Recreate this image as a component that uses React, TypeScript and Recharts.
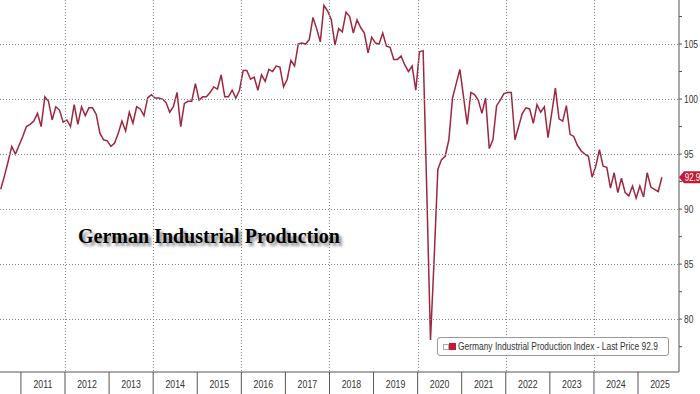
import { LineChart, Line, XAxis, YAxis, ReferenceLine, Legend } from "recharts";

// monthly index values, first point = Jul 2010
const START_YEAR = 2010;
const START_MONTH = 7;

const ipIndex = [
  91.8, 93.0, 94.3, 95.7, 95.0, 95.8, 96.6, 97.5, 97.7, 98.0, 98.7, 97.5,
  100.2, 99.8, 98.1, 99.3, 99.0, 97.9, 98.1, 97.5, 99.5, 97.7, 99.3, 98.5,
  99.2, 99.2, 98.6, 96.9, 96.3, 96.2, 95.7, 96.0, 96.9, 98.0, 97.1, 98.8,
  97.8, 99.3, 99.1, 98.5, 100.1, 100.4, 100.1, 100.1, 100.0, 99.7, 98.8, 99.3,
  100.6, 97.5, 99.6, 99.8, 99.8, 101.4, 99.9, 100.2, 100.2, 100.6, 101.1, 100.9,
  102.2, 100.2, 100.2, 100.8, 100.1, 100.8, 102.6, 102.6, 101.8, 102.0, 100.8, 102.2,
  101.6, 102.7, 102.5, 103.0, 102.9, 101.1, 101.8, 103.5, 103.0, 105.0, 105.1, 105.0,
  105.4, 107.4, 106.4, 105.2, 108.5, 108.0, 107.2, 104.9, 106.4, 106.1, 107.9, 107.5,
  106.0, 107.2, 106.5, 106.0, 104.2, 105.6, 105.1, 105.0, 106.0, 104.8, 104.7, 103.6,
  103.6, 103.9, 103.1, 102.5, 103.0, 100.8, 104.3, 104.4, 91.5, 78.1, 85.5, 93.6,
  94.5, 94.8, 96.3, 100.1, 101.4, 102.7, 100.2, 97.7, 100.6, 100.4, 99.9, 98.7,
  100.1, 95.5, 96.3, 99.4, 99.9, 100.5, 100.6, 100.6, 96.3, 97.5, 98.7, 99.2,
  99.1, 97.8, 99.5, 98.8, 99.3, 96.5, 98.7, 101.0, 98.2, 98.0, 99.4, 96.8,
  96.6, 95.8, 95.3, 95.0, 94.8, 92.9, 93.9, 95.4, 93.9, 93.8, 91.9, 93.3,
  91.5, 92.8, 91.5, 91.2, 92.1, 91.0, 92.1, 91.1, 93.3, 92.0, 91.8, 91.6,
  92.9,
];

const yearLabels = [
  "2011", "2012", "2013", "2014", "2015", "2016", "2017", "2018",
  "2019", "2020", "2021", "2022", "2023", "2024", "2025",
];
const gridYears = ["2012", "2014", "2016", "2018", "2020", "2022", "2024"];
const yTicks = [77.5, 80, 82.5, 85, 87.5, 90, 92.5, 95, 97.5, 100, 102.5, 105, 107.5];
const gridValues = [80, 85, 90, 95, 100, 105];

const lastPrice = 92.9;
const seriesName = "Germany Industrial Production Index";
const title = "German Industrial Production";

const X_DOMAIN = [-0.2, 184.66];
const Y_DOMAIN = [75.2, 109];
const PLOT_W = 679;
const PLOT_H = 372;

const LINE_COLOR = "#9e2740";
const TAG_COLOR = "#c41a36";
const AXIS_COLOR = "#555";
const GRID_COLOR = "#888";
const AXIS_FONT = "'Liberation Sans', Arial, sans-serif";
const NARROW = 0.8; // horizontal squeeze for the condensed axis font

// boundary between Dec and Jan of a year, in month-index units
const yearStart = (year: string) => (Number(year) - START_YEAR) * 12 + (1 - START_MONTH) - 0.5;

const data = ipIndex.map((value, i) => ({ t: i, value }));

// dotted grid line, drawn as a row of tiny squares
function Dots({ x1, y1, x2, y2 }: { x1: number; y1: number; x2: number; y2: number }) {
  const len = Math.hypot(x2 - x1, y2 - y1);
  const n = Math.floor(len / 3);
  const dots = [];
  for (let k = 0; k <= n; k++) {
    const f = n ? k / n : 0;
    dots.push(
      <rect
        key={k}
        x={Math.round(x1 + (x2 - x1) * f)}
        y={Math.round(y1 + (y2 - y1) * f)}
        width={1}
        height={1}
        fill={GRID_COLOR}
      />
    );
  }
  return <g>{dots}</g>;
}

function YearTick(props: any) {
  const { x, y, payload } = props;
  const label = yearLabels.find((yr) => yearStart(yr) === payload.value);
  const withGrid = gridYears.includes(label || "");
  return (
    <g>
      {withGrid && <Dots x1={x} y1={y - PLOT_H} x2={x} y2={y - 2} />}
      <line x1={x} y1={y} x2={x} y2={y + 22} stroke={AXIS_COLOR} strokeWidth={1} />
      <text
        transform={`translate(${x + 22},${y + 16}) scale(${NARROW},1)`}
        textAnchor="middle"
        fontSize={11}
        fill="#333"
        fontFamily={AXIS_FONT}
      >
        {label}
      </text>
    </g>
  );
}

function ValueTick(props: any) {
  const { x, y, payload } = props;
  if (!gridValues.includes(payload.value)) return <g />;
  return (
    <g>
      <Dots x1={x - 5 - PLOT_W} y1={y} x2={x - 7} y2={y} />
      <text
        transform={`translate(${x},${y + 3.5}) scale(${NARROW},1)`}
        fontSize={10.5}
        fill="#333"
        fontFamily={AXIS_FONT}
      >
        {payload.value}
      </text>
    </g>
  );
}

function PriceTag(props: any) {
  const { viewBox } = props;
  const x = viewBox.x + viewBox.width;
  const y = viewBox.y;
  return (
    <g>
      <polygon
        points={`${x},${y} ${x + 5},${y - 6} ${x + 22},${y - 6} ${x + 22},${y + 6} ${x + 5},${y + 6}`}
        fill={TAG_COLOR}
      />
      <text
        transform={`translate(${x + 13.5},${y + 3.5}) scale(${NARROW},1)`}
        textAnchor="middle"
        fontSize={10}
        fill="#fff"
        fontFamily={AXIS_FONT}
      >
        {lastPrice}
      </text>
    </g>
  );
}

function LegendBox(props: any) {
  const item = props.payload?.[0];
  return (
    <div
      style={{
        position: "relative",
        width: 230,
        height: 17,
        background: "#fff",
        border: "1px solid #999",
        borderRadius: 3,
        fontFamily: AXIS_FONT,
        color: "#333",
      }}
    >
      <span style={{ position: "absolute", left: 5, top: 6, width: 4, height: 4, border: "1px solid #aaa" }} />
      <span style={{ position: "absolute", left: 11, top: 5, width: 7, height: 7, background: TAG_COLOR }} />
      <span
        style={{
          position: "absolute",
          left: 20,
          top: 2,
          fontSize: 10.5,
          lineHeight: "13px",
          whiteSpace: "nowrap",
          transform: `scaleX(${NARROW})`,
          transformOrigin: "left center",
        }}
      >
        {`${item ? item.value : seriesName} - Last Price ${lastPrice}`}
      </span>
    </div>
  );
}

export default function App() {
  return (
    <div style={{ position: "absolute", left: 0, top: 0, width: 700, height: 394, background: "#fff" }}>
      <LineChart width={700} height={394} data={data} margin={{ top: 0, right: 0, bottom: 0, left: 0 }}>
        <XAxis
          dataKey="t"
          type="number"
          domain={X_DOMAIN}
          allowDataOverflow
          ticks={yearLabels.map(yearStart)}
          interval={0}
          height={22}
          tickLine={false}
          tickSize={0}
          tickMargin={0}
          axisLine={{ stroke: AXIS_COLOR }}
          tick={<YearTick />}
        />
        <YAxis
          orientation="right"
          width={21}
          domain={Y_DOMAIN}
          allowDataOverflow
          ticks={yTicks}
          interval={0}
          tickSize={3}
          tickMargin={2}
          axisLine={{ stroke: AXIS_COLOR }}
          tickLine={{ stroke: AXIS_COLOR }}
          tick={<ValueTick />}
        />
        <Line
          type="linear"
          dataKey="value"
          name={seriesName}
          stroke={LINE_COLOR}
          strokeWidth={1.5}
          dot={false}
          activeDot={false}
          isAnimationActive={false}
        />
        <ReferenceLine y={lastPrice} stroke="none" label={(p: any) => <PriceTag {...p} />} />
        <Legend
          layout="horizontal"
          verticalAlign="middle"
          align="center"
          wrapperStyle={{ left: 437, top: 337, width: "auto" }}
          content={(p: any) => <LegendBox {...p} />}
        />
      </LineChart>
      <div
        style={{
          position: "absolute",
          left: 78,
          top: 225,
          fontFamily: "'Liberation Serif', 'Times New Roman', serif",
          fontWeight: "bold",
          fontSize: 20,
          color: "#000",
          textShadow: "3px 3px 3px rgba(0,0,0,0.45)",
          whiteSpace: "nowrap",
        }}
      >
        {title}
      </div>
    </div>
  );
}
